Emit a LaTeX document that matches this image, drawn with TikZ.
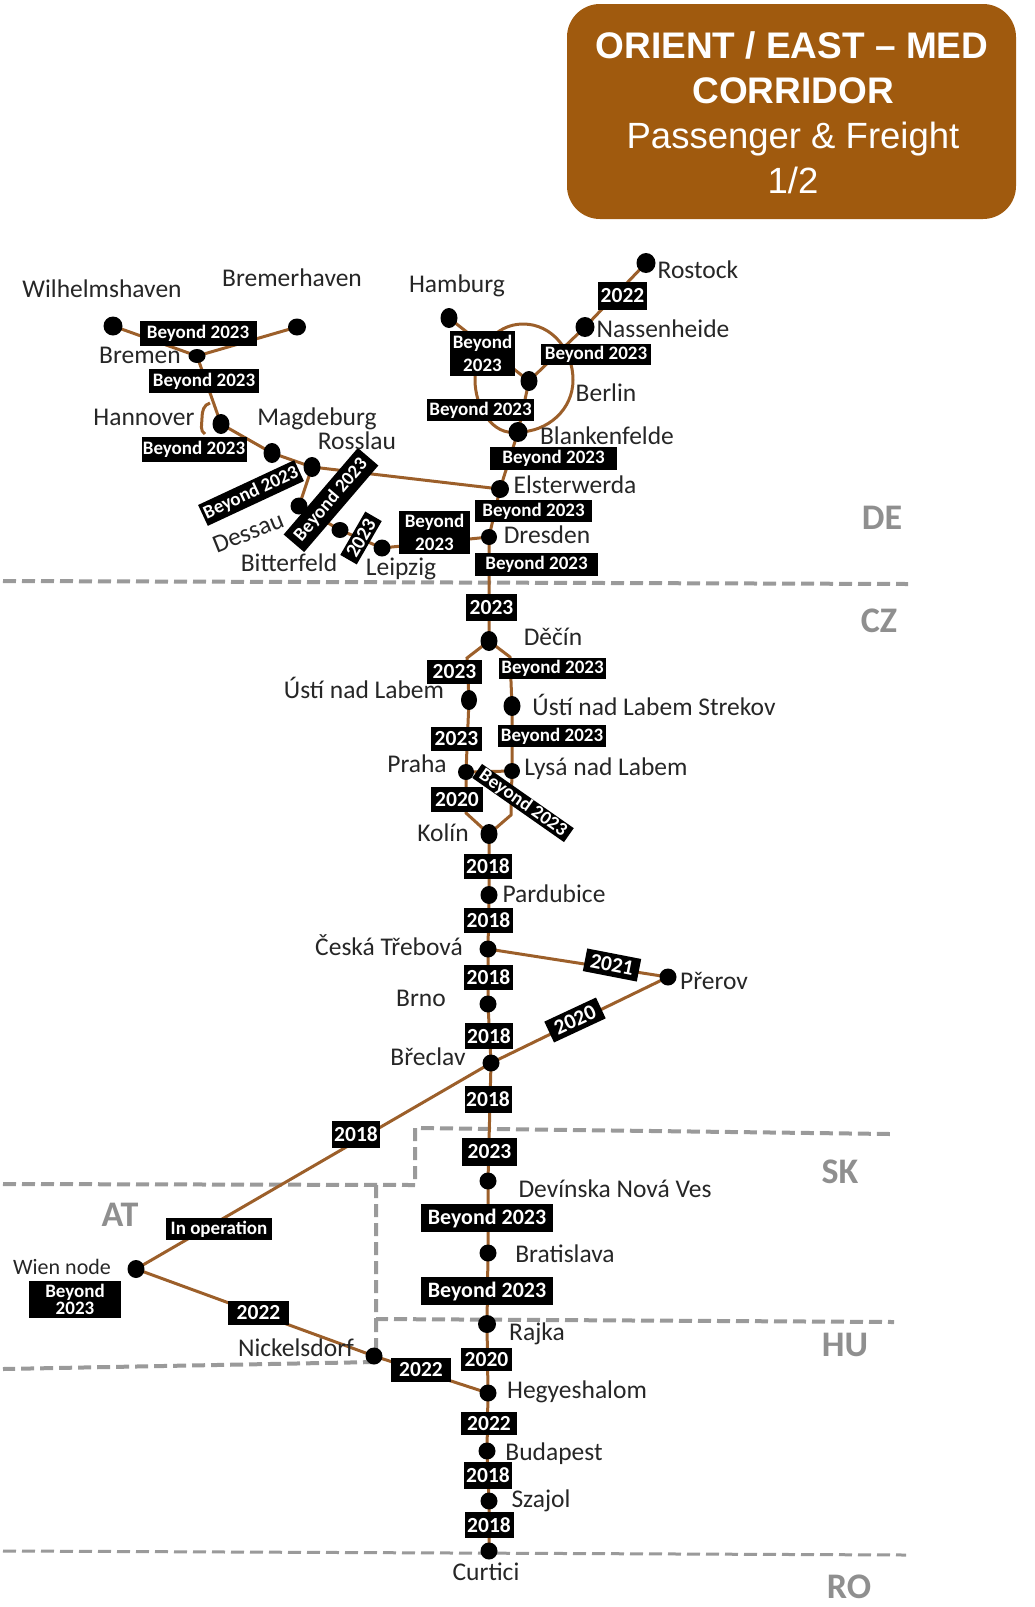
\documentclass[tikz,border=0pt]{standalone}
\usepackage{fontspec}
\setmainfont{Carlito}
\newfontfamily\titlefont{Liberation Sans}
\usetikzlibrary{shapes.geometric,backgrounds}
\definecolor{rail}{HTML}{9C5F2A}
\definecolor{boxbrown}{HTML}{A05A0E}
\definecolor{border}{HTML}{9A9A9A}
\definecolor{place}{HTML}{262626}
\definecolor{land}{HTML}{8F8F8F}
\tikzset{
  stn/.style 2 args={ellipse,fill=black,inner sep=0pt,minimum width=#1,minimum height=#2},
  tag/.style 2 args={fill=black,text=white,inner sep=0pt,minimum width=#1,minimum height=#2,align=center,font=\fontsize{19}{23}\selectfont\bfseries},
  yrtag/.style 2 args={tag={#1}{#2},font=\fontsize{21.5}{23}\selectfont\bfseries},
  city/.style={text=place,inner sep=0pt,font=\fontsize{25.5}{28}\selectfont,text height=1.45ex,text depth=0.1ex,yshift=-4pt},
  country/.style={text=land,inner sep=0pt,font=\fontsize{36}{40}\selectfont\bfseries,yshift=-1pt},
  track/.style={draw=rail,line width=3pt},
  frontier/.style={draw=border,line width=4pt,dash pattern=on 13pt off 6pt},
  ttl/.style={text=white,inner sep=0pt,font=\titlefont\fontsize{36.5}{44}\selectfont},
  ttlb/.style={text=white,inner sep=0pt,font=\titlefont\fontsize{37}{44}\selectfont\bfseries}
}
\begin{document}
\begin{tikzpicture}[x=1pt,y=-1pt]
\useasboundingbox (0,0) rectangle (1035,1607);
% stations
\node[stn={19pt}{19pt}] (wil) at (113,326) {};
\node[stn={18pt}{17pt}] (brh) at (297,327) {};
\node[stn={17pt}{14pt}] (bre) at (197,356) {};
\node[stn={17pt}{20pt}] (han) at (221,424) {};
\node[stn={17pt}{20pt}] (mag) at (272,453) {};
\node[stn={17pt}{20pt}] (ros) at (312,467) {};
\node[stn={17pt}{17pt}] (des) at (299,506) {};
\node[stn={17pt}{16pt}] (bit) at (340,530) {};
\node[stn={17pt}{17pt}] (lei) at (382,548) {};
\node[stn={17pt}{20pt}] (ham) at (449,318) {};
\node[stn={19pt}{20pt}] (rst) at (646,263) {};
\node[stn={19pt}{20pt}] (nas) at (585,327) {};
\node[stn={17pt}{20pt}] (ber) at (529,381) {};
\node[stn={19pt}{20pt}] (bla) at (518,432) {};
\node[stn={18pt}{18pt}] (els) at (500,489) {};
\node[stn={16pt}{16pt}] (dre) at (489,537) {};
\node[stn={17pt}{20pt}] (dec) at (489,641) {};
\node[stn={16pt}{20pt}] (ust) at (469,700) {};
\node[stn={17pt}{20pt}] (str) at (512,706) {};
\node[stn={16pt}{16pt}] (pra) at (466,772) {};
\node[stn={16pt}{16pt}] (lys) at (512,771) {};
\node[stn={17pt}{20pt}] (kol) at (489,834) {};
\node[stn={17pt}{18pt}] (par) at (489,895) {};
\node[stn={17pt}{17pt}] (ceb) at (488,949) {};
\node[stn={17pt}{17pt}] (brn) at (488,1004) {};
\node[stn={17pt}{17pt}] (bcl) at (491,1063) {};
\node[stn={17pt}{17pt}] (pre) at (668,977) {};
\node[stn={17pt}{17pt}] (dev) at (488,1181) {};
\node[stn={17pt}{17pt}] (bra) at (488,1253) {};
\node[stn={18pt}{18pt}] (raj) at (487,1324) {};
\node[stn={17pt}{17pt}] (nic) at (374,1356) {};
\node[stn={17pt}{17pt}] (heg) at (488,1393) {};
\node[stn={17pt}{17pt}] (bud) at (487,1451) {};
\node[stn={17pt}{17pt}] (sza) at (489,1501) {};
\node[stn={17pt}{17pt}] (cur) at (489,1551) {};
\node[stn={17pt}{18pt}] (wie) at (136,1269) {};
% bend points
\coordinate (hna) at (210,403); \coordinate (hnm) at (202,418); \coordinate (hnb) at (205,434);
\coordinate (rngr) at (573,380); \coordinate (rngt) at (523,324); \coordinate (rngl) at (475,380);
\coordinate (dl) at (467,658); \coordinate (dr) at (510,657);
\coordinate (kl) at (466,813); \coordinate (kr) at (511,815);
% corner points of borders
\coordinate (b1a) at (3,581); \coordinate (b1b) at (908,584);
\coordinate (b2a) at (3,1184); \coordinate (b2b) at (415,1185); \coordinate (b2c) at (415,1128); \coordinate (b2d) at (890,1134);
\coordinate (b3a) at (376,1185); \coordinate (b3b) at (376,1319); \coordinate (b3c) at (894,1322);
\coordinate (b4a) at (376,1319); \coordinate (b4b) at (376,1362); \coordinate (b4c) at (3,1369);
\coordinate (b5a) at (3,1551); \coordinate (b5b) at (906,1555);
\begin{pgfonlayer}{background}
\draw[frontier] (b1a) -- (b1b);
\draw[frontier] (b2a) -- (b2b) -- (b2c) -- (b2d);
\draw[frontier] (b3a) -- (b3b) -- (b3c);
\draw[frontier] (b4a) -- (b4b) (b4b) -- (b4c);
\draw[frontier,line width=3pt] (b5a) -- (b5b);
% tracks
\draw[track] (wil.center) -- (bre.center) -- (brh.center);
\draw[track] (bre.center) -- (han.center) -- (mag.center) -- (ros.center) -- (els.center);
\draw[track] (hna) to[out=195,in=90] (hnm) to[out=-90,in=150] (hnb);
\draw[track] (ros.center) -- (des.center) -- (bit.center) -- (lei.center) -- (dre.center);
\draw[track] (ham.center) -- (ber.center) -- (nas.center) -- (rst.center);
\draw[track] (ber.center) -- (bla.center) -- (els.center) -- (dre.center) -- (dec.center);
\draw[track] (bla.center) to[out=0,in=-90] (rngr) to[out=90,in=0] (rngt) to[out=180,in=90] (rngl) to[out=-90,in=190] (bla.center);
\draw[track] (dec.center) -- (dl) -- (ust.center) -- (pra.center) -- (kl) -- (kol.center);
\draw[track] (dec.center) -- (dr) -- (str.center) -- (lys.center) -- (kr) -- (kol.center);
\draw[track] (pra.center) -- (lys.center);
\draw[track] (kol.center) -- (par.center) -- (ceb.center) -- (brn.center) -- (bcl.center) -- (dev.center) -- (bra.center) -- (raj.center) -- (heg.center) -- (bud.center) -- (sza.center) -- (cur.center);
\draw[track] (ceb.center) -- (pre.center) -- (bcl.center) -- (wie.center) -- (nic.center) -- (heg.center);
\end{pgfonlayer}
% year tags
\node[tag={117pt}{25pt}] (t01) at (198,333) {Beyond 2023};
\node[tag={110pt}{24pt}] (t02) at (204,381) {Beyond 2023};
\node[tag={105pt}{25pt}] (t03) at (194,449) {Beyond 2023};
\node[tag={106pt}{23pt},rotate=25] (t04) at (251,493) {Beyond 2023};
\node[tag={114pt}{27pt},rotate=49.4] (t05) at (331,500) {Beyond 2023};
\node[yrtag={50pt}{19pt},rotate=60,font=\fontsize{20}{20}\selectfont\bfseries] (t06) at (361,538) {2023};
\node[tag={71pt}{43pt}] (t07) at (434.5,532) {Beyond\\2023};
\node[yrtag={49pt}{28pt}] (t08) at (622.5,296) {2022};
\node[tag={65pt}{45pt}] (t09) at (482.5,353.5) {Beyond\\2023};
\node[tag={110pt}{21pt}] (t10) at (596,354) {Beyond 2023};
\node[tag={107pt}{22pt}] (t11) at (480.5,410) {Beyond 2023};
\node[tag={127pt}{23pt}] (t12) at (553.5,458.5) {Beyond 2023};
\node[tag={117pt}{22pt}] (t13) at (533.5,511) {Beyond 2023};
\node[tag={123pt}{23pt}] (t14) at (536.5,564.5) {Beyond 2023};
\node[yrtag={51pt}{27pt}] (t15) at (491.5,607.5) {2023};
\node[yrtag={55pt}{24pt}] (t16) at (454.5,672) {2023};
\node[tag={107pt}{21pt}] (t17) at (552.5,668) {Beyond 2023};
\node[yrtag={51pt}{24pt}] (t18) at (456.5,739) {2023};
\node[tag={108pt}{22pt}] (t19) at (552,736) {Beyond 2023};
\node[yrtag={52pt}{25pt}] (t20) at (457,799.5) {2020};
\node[tag={112pt}{17pt},rotate=-35] (t21) at (523,803) {Beyond 2023};
\node[yrtag={48pt}{25pt}] (t22) at (488,866.5) {2018};
\node[yrtag={49pt}{25pt}] (t23) at (488.5,920.5) {2018};
\node[yrtag={55pt}{23pt},rotate=-11] (t24) at (612,965) {2021};
\node[yrtag={49pt}{25pt}] (t25) at (488.5,977.5) {2018};
\node[yrtag={57pt}{23pt},rotate=25] (t26) at (575,1020) {2020};
\node[yrtag={48pt}{26pt}] (t27) at (489,1036) {2018};
\node[yrtag={47pt}{27pt}] (t28) at (488,1099.5) {2018};
\node[yrtag={48pt}{27pt}] (t29) at (356,1134.5) {2018};
\node[yrtag={55pt}{28pt}] (t30) at (489.5,1152) {2023};
\node[tag={132pt}{28pt},font=\fontsize{22}{23}\selectfont\bfseries] (t31) at (487,1218) {Beyond 2023};
\node[tag={106pt}{22pt}] (t32) at (219,1229) {In operation};
\node[tag={92pt}{37pt},font=\fontsize{19}{17}\selectfont\bfseries] (t33) at (75,1299.5) {Beyond\\2023};
\node[yrtag={61pt}{24pt}] (t34) at (258.5,1313) {2022};
\node[tag={132pt}{28pt},font=\fontsize{22}{23}\selectfont\bfseries] (t35) at (487,1291) {Beyond 2023};
\node[yrtag={51pt}{23pt}] (t36) at (486.5,1359.5) {2020};
\node[yrtag={60pt}{24pt}] (t37) at (421,1370) {2022};
\node[yrtag={56pt}{23pt}] (t38) at (489,1423.5) {2022};
\node[yrtag={48pt}{27pt}] (t39) at (488,1475.5) {2018};
\node[yrtag={49pt}{26pt}] (t40) at (489,1525) {2018};
% place names
\node[city] (n01) at (102,290) {Wilhelmshaven};
\node[city] (n02) at (292,279) {Bremerhaven};
\node[city] (n03) at (140,356) {Bremen};
\node[city] (n04) at (144,418) {Hannover};
\node[city] (n05) at (317,418) {Magdeburg};
\node[city] (n06) at (357,442) {Rosslau};
\node[city,rotate=22] (n07) at (250,533) {Dessau};
\node[city] (n08) at (289,564) {Bitterfeld};
\node[city] (n09) at (401,568) {Leipzig};
\node[city] (n10) at (457,285) {Hamburg};
\node[city] (n11) at (698,271) {Rostock};
\node[city] (n12) at (663,330) {Nassenheide};
\node[city] (n13) at (606,394) {Berlin};
\node[city] (n14) at (607,437) {Blankenfelde};
\node[city] (n15) at (575,486) {Elsterwerda};
\node[city] (n16) at (547,536) {Dresden};
\node[city] (n17) at (553,638) {Děčín};
\node[city] (n18) at (364,691) {Ústí nad Labem};
\node[city] (n19) at (654,708) {Ústí nad Labem Strekov};
\node[city] (n20) at (417,765) {Praha};
\node[city] (n21) at (606,768) {Lysá nad Labem};
\node[city] (n22) at (443,834) {Kolín};
\node[city] (n23) at (554,895) {Pardubice};
\node[city] (n24) at (389,948) {Česká Třebová};
\node[city] (n25) at (421,999) {Brno};
\node[city] (n26) at (428,1058) {Břeclav};
\node[city] (n27) at (714,982) {Přerov};
\node[city] (n28) at (615,1190) {Devínska Nová Ves};
\node[city] (n29) at (565,1255) {Bratislava};
\node[city] (n30) at (537,1333) {Rajka};
\node[city] (n31) at (296,1349) {Nickelsdorf};
\node[city,font=\fontsize{22}{24}\selectfont] (n32) at (62,1267) {Wien node};
\node[city] (n33) at (577,1391) {Hegyeshalom};
\node[city] (n34) at (554,1453) {Budapest};
\node[city] (n35) at (541,1500) {Szajol};
\node[city] (n36) at (486,1573) {Curtici};
% countries
\node[country] (c1) at (882,517) {DE};
\node[country] (c2) at (879,620) {CZ};
\node[country] (c3) at (840,1171) {SK};
\node[country] (c4) at (845,1344) {HU};
\node[country] (c5) at (849,1586) {RO};
\node[country] (c6) at (120,1214) {AT};
% title
\node[fill=boxbrown,rounded corners=33pt,minimum width=449pt,minimum height=215pt,inner sep=0pt] (hbox) at (791.5,111.5) {};
\node[ttlb] (h1) at (792,45) {ORIENT / EAST – MED};
\node[ttlb] (h2) at (793,91) {CORRIDOR};
\node[ttl] (h3) at (793,139) {Passenger \& Freight};
\node[ttl] (h4) at (793,180) {1/2};
\end{tikzpicture}
\end{document}
